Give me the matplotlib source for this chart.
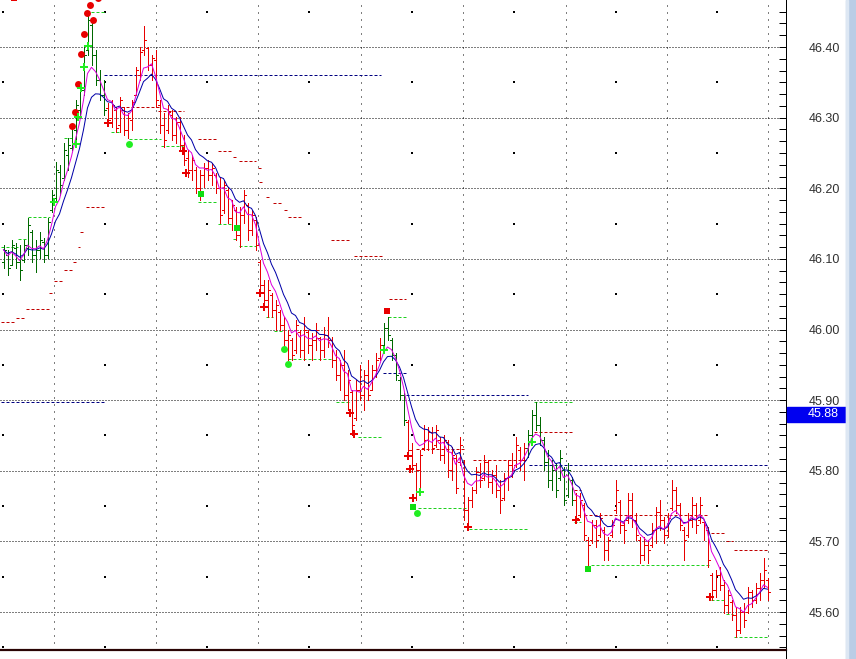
import numpy as np
import pandas as pd
import matplotlib
matplotlib.use('Agg')
import matplotlib.pyplot as plt
from matplotlib.collections import LineCollection
from matplotlib.patches import Rectangle
from matplotlib.ticker import FixedLocator

# OHLC bars, one per bar slot (left to right)
highs = [
    46.120, 46.113, 46.127, 46.123, 46.120, 46.127, 46.158, 46.141, 46.127, 46.138,
    46.130, 46.158, 46.198, 46.237, 46.233, 46.264, 46.271, 46.290, 46.325, 46.346,
    46.400, 46.448, 46.438, 46.396, 46.368, 46.353, 46.321, 46.325, 46.315, 46.329,
    46.315, 46.307, 46.325, 46.372, 46.400, 46.430, 46.400, 46.389, 46.396, 46.325,
    46.307, 46.318, 46.311, 46.301, 46.301, 46.275, 46.254, 46.247, 46.230, 46.226,
    46.236, 46.240, 46.236, 46.222, 46.216, 46.212, 46.202, 46.183, 46.173, 46.173,
    46.198, 46.179, 46.169, 46.159, 46.098, 46.070, 46.070, 46.052, 46.042, 46.028,
    46.018, 45.999, 45.988, 46.013, 45.999, 46.018, 45.999, 45.995, 46.009, 45.989,
    46.003, 46.018, 45.989, 45.971, 45.957, 45.971, 45.943, 45.914, 45.929, 45.950,
    45.943, 45.957, 45.950, 45.967, 45.988, 46.009, 46.018, 45.988, 45.967, 45.933,
    45.910, 45.872, 45.840, 45.811, 45.830, 45.865, 45.862, 45.862, 45.865, 45.848,
    45.851, 45.844, 45.834, 45.823, 45.848, 45.815, 45.763, 45.777, 45.806, 45.811,
    45.823, 45.815, 45.801, 45.808, 45.787, 45.797, 45.815, 45.825, 45.848, 45.834,
    45.840, 45.858, 45.886, 45.897, 45.876, 45.848, 45.830, 45.815, 45.811, 45.830,
    45.805, 45.811, 45.791, 45.769, 45.769, 45.754, 45.706, 45.730, 45.730, 45.740,
    45.720, 45.706, 45.730, 45.787, 45.759, 45.730, 45.769, 45.769, 45.740, 45.706,
    45.706, 45.702, 45.726, 45.749, 45.759, 45.735, 45.740, 45.787, 45.777, 45.754,
    45.720, 45.740, 45.763, 45.754, 45.763, 45.730, 45.720, 45.656, 45.660, 45.664,
    45.645, 45.631, 45.617, 45.607, 45.607, 45.613, 45.635, 45.631, 45.641, 45.656,
    45.677, 45.648,
]
lows = [
    46.087, 46.077, 46.091, 46.087, 46.070, 46.095, 46.106, 46.095, 46.081, 46.102,
    46.095, 46.102, 46.166, 46.183, 46.191, 46.212, 46.226, 46.254, 46.268, 46.300,
    46.332, 46.389, 46.375, 46.346, 46.325, 46.304, 46.290, 46.287, 46.280, 46.280,
    46.275, 46.271, 46.283, 46.332, 46.353, 46.389, 46.368, 46.353, 46.315, 46.278,
    46.258, 46.278, 46.268, 46.264, 46.254, 46.233, 46.216, 46.212, 46.193, 46.183,
    46.202, 46.212, 46.205, 46.193, 46.151, 46.165, 46.151, 46.141, 46.127, 46.117,
    46.151, 46.127, 46.134, 46.113, 46.052, 46.028, 46.018, 46.018, 45.999, 45.999,
    45.975, 45.957, 45.957, 45.967, 45.961, 45.957, 45.967, 45.957, 45.971, 45.957,
    45.961, 45.975, 45.947, 45.929, 45.914, 45.900, 45.886, 45.851, 45.872, 45.900,
    45.886, 45.900, 45.914, 45.933, 45.957, 45.975, 45.985, 45.957, 45.929, 45.900,
    45.865, 45.823, 45.798, 45.759, 45.773, 45.830, 45.830, 45.825, 45.834, 45.815,
    45.811, 45.791, 45.787, 45.769, 45.808, 45.730, 45.719, 45.749, 45.769, 45.777,
    45.787, 45.777, 45.769, 45.763, 45.740, 45.759, 45.773, 45.791, 45.805, 45.801,
    45.787, 45.820, 45.848, 45.858, 45.837, 45.801, 45.777, 45.773, 45.763, 45.787,
    45.751, 45.763, 45.751, 45.726, 45.735, 45.702, 45.660, 45.698, 45.692, 45.706,
    45.674, 45.674, 45.706, 45.740, 45.712, 45.698, 45.726, 45.720, 45.702, 45.670,
    45.674, 45.670, 45.692, 45.698, 45.716, 45.698, 45.706, 45.745, 45.740, 45.716,
    45.674, 45.706, 45.720, 45.712, 45.726, 45.702, 45.664, 45.617, 45.621, 45.631,
    45.599, 45.599, 45.589, 45.565, 45.570, 45.579, 45.599, 45.607, 45.613, 45.617,
    45.635, 45.617,
]
opens = [
    46.095, 46.106, 46.091, 46.116, 46.095, 46.098, 46.116, 46.138, 46.106, 46.113,
    46.124, 46.106, 46.169, 46.186, 46.223, 46.215, 46.247, 46.257, 46.283, 46.311,
    46.339, 46.396, 46.431, 46.389, 46.353, 46.332, 46.314, 46.300, 46.311, 46.290,
    46.311, 46.283, 46.297, 46.332, 46.360, 46.396, 46.399, 46.375, 46.382, 46.318,
    46.290, 46.283, 46.304, 46.275, 46.294, 46.261, 46.243, 46.226, 46.226, 46.200,
    46.219, 46.229, 46.219, 46.219, 46.200, 46.169, 46.198, 46.158, 46.169, 46.134,
    46.162, 46.176, 46.141, 46.155, 46.095, 46.063, 46.042, 46.049, 46.028, 46.025,
    46.006, 45.985, 45.985, 45.971, 45.996, 45.971, 45.996, 45.978, 45.985, 45.988,
    45.971, 45.992, 45.985, 45.957, 45.936, 45.950, 45.907, 45.912, 45.875, 45.914,
    45.907, 45.936, 45.914, 45.943, 45.960, 45.978, 46.002, 45.985, 45.964, 45.929,
    45.907, 45.869, 45.830, 45.808, 45.801, 45.833, 45.844, 45.855, 45.837, 45.844,
    45.823, 45.841, 45.801, 45.818, 45.812, 45.812, 45.745, 45.759, 45.773, 45.798,
    45.790, 45.812, 45.784, 45.794, 45.773, 45.762, 45.790, 45.808, 45.808, 45.830,
    45.815, 45.833, 45.851, 45.879, 45.865, 45.844, 45.812, 45.787, 45.801, 45.790,
    45.801, 45.766, 45.787, 45.759, 45.737, 45.752, 45.702, 45.702, 45.723, 45.709,
    45.716, 45.688, 45.709, 45.745, 45.756, 45.723, 45.730, 45.759, 45.730, 45.702,
    45.681, 45.695, 45.695, 45.716, 45.742, 45.730, 45.709, 45.747, 45.773, 45.752,
    45.716, 45.709, 45.730, 45.752, 45.730, 45.727, 45.716, 45.653, 45.631, 45.653,
    45.638, 45.610, 45.614, 45.596, 45.574, 45.600, 45.600, 45.628, 45.617, 45.634,
    45.645, 45.645,
]
closes = [
    46.113, 46.087, 46.120, 46.095, 46.084, 46.120, 46.148, 46.106, 46.113, 46.127,
    46.106, 46.152, 46.191, 46.226, 46.205, 46.254, 46.261, 46.285, 46.318, 46.339,
    46.389, 46.438, 46.389, 46.353, 46.332, 46.311, 46.297, 46.318, 46.285, 46.325,
    46.283, 46.300, 46.322, 46.368, 46.393, 46.410, 46.375, 46.385, 46.325, 46.290,
    46.268, 46.308, 46.275, 46.294, 46.261, 46.240, 46.226, 46.240, 46.200, 46.219,
    46.229, 46.219, 46.229, 46.200, 46.162, 46.205, 46.158, 46.176, 46.134, 46.162,
    46.191, 46.141, 46.162, 46.120, 46.063, 46.042, 46.056, 46.028, 46.035, 46.006,
    45.985, 45.992, 45.964, 46.006, 45.971, 45.999, 45.978, 45.985, 45.999, 45.971,
    45.992, 45.985, 45.957, 45.936, 45.950, 45.907, 45.929, 45.865, 45.914, 45.907,
    45.936, 45.907, 45.943, 45.957, 45.978, 46.002, 45.992, 45.964, 45.936, 45.907,
    45.872, 45.830, 45.808, 45.801, 45.823, 45.844, 45.855, 45.833, 45.858, 45.823,
    45.844, 45.801, 45.823, 45.776, 45.837, 45.745, 45.759, 45.773, 45.798, 45.787,
    45.812, 45.784, 45.794, 45.773, 45.759, 45.790, 45.808, 45.801, 45.837, 45.815,
    45.833, 45.851, 45.879, 45.865, 45.844, 45.812, 45.787, 45.801, 45.773, 45.818,
    45.759, 45.801, 45.759, 45.733, 45.759, 45.709, 45.695, 45.723, 45.702, 45.733,
    45.688, 45.702, 45.723, 45.773, 45.723, 45.716, 45.759, 45.730, 45.709, 45.681,
    45.695, 45.688, 45.716, 45.742, 45.730, 45.709, 45.733, 45.773, 45.752, 45.723,
    45.702, 45.730, 45.752, 45.723, 45.752, 45.723, 45.674, 45.631, 45.653, 45.638,
    45.610, 45.624, 45.596, 45.574, 45.600, 45.589, 45.628, 45.617, 45.634, 45.645,
    45.660, 45.628,
]

# bar ranges (inclusive) painted in the up-trend colour
up_trend = [(0, 25), (95, 100), (131, 142)]

# stop / support / resistance lines: (first bar, last bar, price)
support_lines = [
    (-0.75, 3.5, 46.117), (3.5, 6, 46.128), (6, 11.5, 46.159), (15, 17.25, 46.271),
    (21.75, 25.5, 46.450), (26.75, 29.25, 46.280), (31.25, 39.25, 46.270),
    (39.25, 44.75, 46.260), (48.5, 53.5, 46.180), (53.5, 57.25, 46.150),
    (57.25, 58.5, 46.128), (58.75, 63, 46.118), (65.5, 67.25, 46.018),
    (67.5, 69.75, 45.998), (71, 81.75, 45.958), (83, 86.75, 45.897),
    (88.5, 94.75, 45.848), (96, 100.5, 46.018), (103.5, 115.5, 45.747),
    (116.25, 131.25, 45.718), (132.5, 142.5, 45.897), (142.5, 144.25, 45.728),
    (146.75, 176.25, 45.667), (176.75, 180, 45.617), (180.5, 182.25, 45.597),
    (182.5, 191.25, 45.565),
]
resistance_lines = [
    (-0.75, 3, 46.011), (3, 5.5, 46.016), (5.5, 11.25, 46.029), (11.25, 12.5, 46.052),
    (12.5, 14.75, 46.069), (15, 17.25, 46.084), (17.25, 18.25, 46.096),
    (18.5, 19, 46.117), (19, 19.75, 46.138), (20.5, 25.5, 46.173),
    (29.25, 38.75, 46.315), (38.5, 45, 46.309), (48.5, 53, 46.270),
    (53.5, 56.75, 46.253), (57.25, 58.5, 46.244), (58.75, 63, 46.239),
    (63.5, 64.25, 46.229), (63.75, 64.75, 46.209), (65.5, 66.75, 46.188),
    (67.25, 69.75, 46.179), (70, 70.75, 46.169), (71, 74.25, 46.159),
    (81.75, 86.75, 46.127), (87.5, 94.5, 46.104), (96.25, 100.5, 46.043),
    (103, 115.5, 45.831), (117.25, 131, 45.815), (132.5, 142.5, 45.855),
    (142.5, 144.25, 45.773), (145, 176, 45.737), (176.75, 180, 45.712),
    (180.5, 182.25, 45.701), (182.5, 191.25, 45.688),
]
pivot_lines = [
    (25, 94.25, 46.360), (-0.75, 25.5, 45.897), (94.75, 100.5, 45.938),
    (100.5, 131, 45.907), (131.25, 191.25, 45.808),
]

# signal markers: (bar, price)
red_dots = [(17, 46.288), (17.75, 46.308), (18.5, 46.348), (19.25, 46.390),
            (20, 46.418), (20.75, 46.448), (21.5, 46.460), (22.25, 46.438),
            (23.5, 46.469)]
green_arrows = [(12.5, 46.181), (18, 46.263), (18.5, 46.301), (19.25, 46.342),
                (20, 46.372), (21, 46.401), (95, 45.971), (104, 45.770), (132, 45.841)]
green_dots = [(31.25, 46.263), (70, 45.972), (71, 45.951), (103.25, 45.740)]
green_squares = [(49.25, 46.192), (58.25, 46.144), (102.25, 45.749), (146, 45.661)]
red_arrows = [(26, 46.292), (44.75, 46.253), (45.5, 46.222), (64, 46.052), (65, 46.032),
              (86.5, 45.882), (87.5, 45.852), (101, 45.821), (101.5, 45.802),
              (102.25, 45.761), (116, 45.720), (143, 45.730), (176.5, 45.621)]
red_squares = [(95.75, 46.026), (2.5, 46.469)]

time_marks = [12.5, 38, 63.5, 89.25, 114.75, 140.5, 165.75, 191]
price_ticks = [45.6, 45.7, 45.8, 45.9, 46.0, 46.1, 46.2, 46.3, 46.4]
last_price = 45.88

RED = '#E80000'
GREEN = '#006800'

fig = plt.figure(figsize=(8.56, 6.59), dpi=100)
ax = fig.add_axes([0, 9 / 659, 786 / 856, 650 / 659])
px = 72 / 100  # one pixel in points

# bar centres fall on pixel centres (4 px per bar)
ax.set_xlim(-0.875, 195.625)
ax.set_ylim(45.5463, 46.4666)

# grid
for p in price_ticks:
    ax.axhline(p, color='black', lw=px, ls=(0, (1, 2)), zorder=1)
for t in time_marks:
    ax.axvline(t, color='black', lw=px, ls=(0, (1, 6)), zorder=1)
step = time_marks[1] - time_marks[0]
mids = [time_marks[0] - step / 2] + [(a + b) / 2 for a, b in zip(time_marks[:-1], time_marks[1:])]
halves = [p + 0.05 for p in [price_ticks[0] - 0.1] + price_ticks]
mx, my = np.meshgrid(mids, halves)
ax.scatter(mx.ravel(), my.ravel(), s=0.8, marker='s', color='black', lw=0, zorder=1)

# stop lines
for x0, x1, p in support_lines:
    ax.plot([x0, x1], [p, p], color='#1FD01F', lw=px, ls=(0, (3, 2)), zorder=2)
for x0, x1, p in resistance_lines:
    ax.plot([x0, x1], [p, p], color='#C00000', lw=px, ls=(0, (3, 2)), zorder=2)
for x0, x1, p in pivot_lines:
    ax.plot([x0, x1], [p, p], color='#000080', lw=px, ls=(0, (3, 2)), zorder=2)

# OHLC bars
n = len(closes)
colors = [RED] * n
for a, b in up_trend:
    for i in range(a, b + 1):
        colors[i] = GREEN
segs, cols = [], []
for i in range(n):
    segs += [[(i, lows[i]), (i, highs[i])],
             [(i - 0.5, opens[i]), (i, opens[i])],
             [(i, closes[i]), (i + 0.5, closes[i])]]
    cols += [colors[i]] * 3
ax.add_collection(LineCollection(segs, colors=cols, linewidths=px, snap=True,
                                 antialiased=False, zorder=3))

# moving averages
cs = pd.Series(closes)
fast = cs.ewm(span=5, adjust=False).mean()
slow = cs.ewm(span=9, adjust=False).mean()
ax.plot(np.arange(n), slow, color='#0000A8', lw=px, zorder=4)
ax.plot(np.arange(n), fast, color='#DD00DD', lw=px, zorder=4)

# markers
def mark(pts, marker, color, ms):
    xs, ys = zip(*pts)
    ax.plot(xs, ys, ls='none', marker=marker, color=color, ms=ms, mew=0, zorder=5)

mark(red_dots, 'o', '#E80000', 5)
mark(red_arrows, 'P', '#E80000', 5.5)
mark(red_squares, 's', '#E80000', 4.5)
mark(green_arrows, 'P', '#22EE22', 5.5)
mark(green_dots, 'o', '#22EE22', 5)
mark(green_squares, 's', '#11DD11', 4.5)

# axes / price scale
for s in ['top', 'left']:
    ax.spines[s].set_visible(False)
ax.spines['right'].set_color('black')
ax.spines['right'].set_linewidth(px)
ax.spines['bottom'].set_color('#2A0404')
ax.spines['bottom'].set_linewidth(2.2 * px)
ax.xaxis.set_visible(False)
ax.yaxis.tick_right()
ax.yaxis.set_major_locator(FixedLocator(price_ticks))
ax.yaxis.set_minor_locator(FixedLocator(np.arange(45.55, 46.47, 0.1 / 6)))
ax.set_yticklabels(['%.2f' % p for p in price_ticks])
ax.tick_params(axis='y', which='both', direction='in', length=5, width=px,
               color='black', pad=16, labelsize=9, labelcolor='#303030')
for lab in ax.get_yticklabels():
    lab.set_fontfamily('Liberation Sans')

# last price box
tr = ax.get_yaxis_transform()
ax.add_patch(Rectangle((787 / 786, last_price - 0.0106), 59 / 786, 0.0212,
                       transform=tr, color='#0000F0', clip_on=False, zorder=6))
ax.text(1.0475, last_price, '%.2f' % last_price, transform=tr, color='white',
        fontsize=9, family='Liberation Sans', ha='center', va='center', zorder=7)

# right scroll strip
fig.patches.append(Rectangle((846 / 856, 0), 10 / 856, 1, transform=fig.transFigure,
                             color='#BACDE6', zorder=0))
fig.patches.append(Rectangle((846 / 856, 0), 2 / 856, 1, transform=fig.transFigure,
                             color='#DDE7F3', zorder=0))
fig.lines.append(plt.Line2D([786 / 856, 786 / 856], [0, 9 / 659], transform=fig.transFigure,
                            color='black', lw=px))

fig.savefig('out.png', dpi=100)
